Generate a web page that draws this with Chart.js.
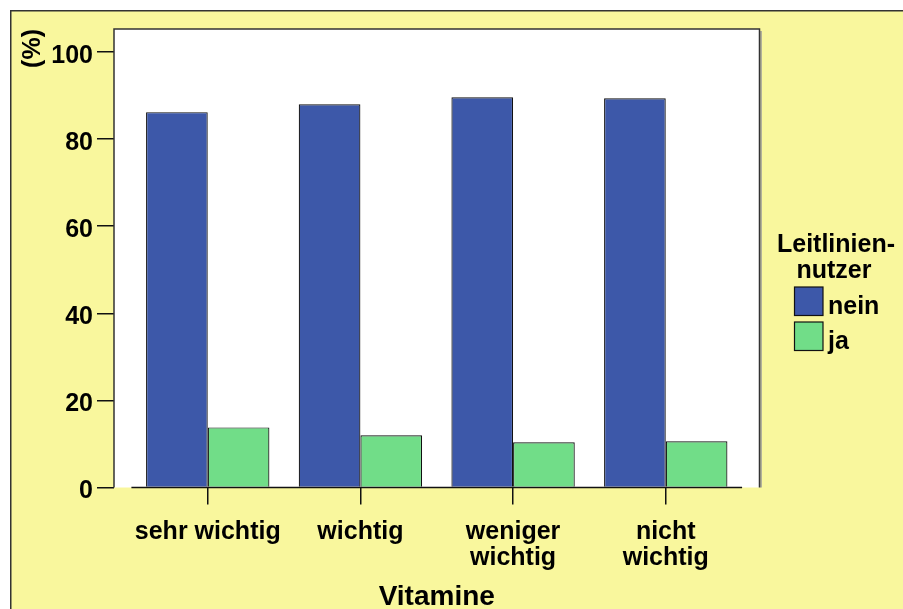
<!DOCTYPE html>
<html>
<head>
<meta charset="utf-8">
<style>
  html, body { margin: 0; padding: 0; background: #fff; }
  #wrap { width: 903px; height: 609px; }
</style>
<script src="https://cdn.jsdelivr.net/npm/chart.js@4/dist/chart.umd.min.js"></script>
</head>
<body>
<div id="wrap"><canvas id="c" width="903" height="609"></canvas></div>
<script>
// Categories (multi-line tick labels) and the two series, in percent
const categories = [['sehr wichtig'], ['wichtig'], ['weniger', 'wichtig'], ['nicht', 'wichtig']];
const seriesNames = ['nein', 'ja'];
const neinValues = [86.2, 88.0, 89.6, 89.4];
const jaValues = [13.8, 12.0, 10.4, 10.6];
const yTickValues = [0, 20, 40, 60, 80, 100];
const legendTitle = ['Leitlinien-', 'nutzer'];
const yAxisTitle = '(%)';
const xAxisTitle = 'Vitamine';

const FONT = '"Liberation Sans", Arial, Helvetica, sans-serif';
const BG_YELLOW = '#f9f79d';
const BLUE = '#3d58a9';
const GREEN = '#71dd88';
const INK = '#111';

Chart.defaults.font.family = FONT;
Chart.defaults.font.weight = 'bold';
Chart.defaults.color = '#000';

const toPoints = vals => vals.map((v, i) => ({ x: i, y: v }));

const framePlugin = {
  id: 'frame',
  beforeDraw(chart) {
    const { ctx, width, height, chartArea: a } = chart;
    ctx.save();
    ctx.fillStyle = '#fff';
    ctx.fillRect(0, 0, width, height);
    ctx.fillStyle = BG_YELLOW;
    ctx.fillRect(10, 10, width, height);
    ctx.strokeStyle = '#333';
    ctx.lineWidth = 1.5;
    ctx.beginPath();
    ctx.moveTo(10.75, height + 5);
    ctx.lineTo(10.75, 10.75);
    ctx.lineTo(width + 5, 10.75);
    ctx.stroke();
    // white plotting region
    ctx.fillStyle = '#fff';
    ctx.fillRect(a.left, a.top, a.right - a.left, a.bottom - a.top);
    ctx.restore();
  },
  beforeDatasetsDraw(chart) {
    const { ctx, chartArea: a } = chart;
    ctx.save();
    // soft shadow along the right edge of the plot
    ctx.strokeStyle = '#9a9a9a';
    ctx.lineWidth = 1.5;
    ctx.beginPath();
    ctx.moveTo(a.right + 1.5, a.top + 2);
    ctx.lineTo(a.right + 1.5, a.bottom);
    ctx.stroke();
    // border on left, top and right
    ctx.strokeStyle = '#333';
    ctx.lineWidth = 1.5;
    ctx.beginPath();
    ctx.moveTo(a.left, a.bottom);
    ctx.lineTo(a.left, a.top);
    ctx.lineTo(a.right, a.top);
    ctx.lineTo(a.right, a.bottom);
    ctx.stroke();
    ctx.restore();
  },
  afterDatasetsDraw(chart) {
    const { ctx } = chart;
    const xs = chart.scales.x, ys = chart.scales.y;
    const y0 = ys.getPixelForValue(0);
    ctx.save();
    ctx.strokeStyle = INK;
    ctx.lineWidth = 1.5;
    ctx.beginPath();
    ctx.moveTo(xs.getPixelForValue(-0.5), y0);
    ctx.lineTo(xs.getPixelForValue(categories.length - 0.5), y0);
    ctx.stroke();
    ctx.restore();
  },
  afterDraw(chart) {
    const { ctx } = chart;
    ctx.save();
    ctx.fillStyle = '#000';
    ctx.font = 'bold 25px ' + FONT;
    ctx.textAlign = 'center';
    ctx.textBaseline = 'alphabetic';
    ctx.fillText(legendTitle[0], 836, 252);
    ctx.fillText(legendTitle[1], 834, 277.5);
    ctx.textAlign = 'left';
    chart.data.datasets.forEach((ds, i) => {
      const top = 287 + i * 35;
      ctx.fillStyle = ds.backgroundColor;
      ctx.fillRect(794.5, top, 28.5, 28.5);
      ctx.strokeStyle = INK;
      ctx.lineWidth = 1.2;
      ctx.strokeRect(794.5, top, 28.5, 28.5);
      ctx.fillStyle = '#000';
      ctx.fillText(ds.label, 828, top + 26.5);
    });
    ctx.restore();
  }
};

new Chart(document.getElementById('c'), {
  type: 'bar',
  data: {
    datasets: [
      { label: seriesNames[0], data: toPoints(neinValues), backgroundColor: BLUE, borderColor: INK, borderWidth: 1.2 },
      { label: seriesNames[1], data: toPoints(jaValues), backgroundColor: GREEN, borderColor: INK, borderWidth: 1.2 }
    ]
  },
  options: {
    responsive: false,
    animation: false,
    layout: { padding: { top: 29, right: 143.5, left: 0, bottom: 0 } },
    categoryPercentage: 0.808,
    barPercentage: 1,
    plugins: { legend: { display: false }, tooltip: { enabled: false } },
    scales: {
      x: {
        type: 'linear',
        min: -0.614,
        max: categories.length - 1 + 0.614,
        offset: false,
        afterBuildTicks: s => { s.ticks = categories.map((c, i) => ({ value: i })); },
        afterFit: s => { s.height = 121.5; },
        grid: { display: true, offset: false, drawOnChartArea: false, drawTicks: true, tickLength: 17, color: INK, lineWidth: 1.5 },
        border: { display: false },
        ticks: {
          padding: 15,
          autoSkip: false,
          maxRotation: 0,
          color: '#000',
          font: { size: 25, weight: 'bold', lineHeight: 1.03 },
          callback: v => categories[v]
        },
        title: {
          display: true,
          text: xAxisTitle,
          color: '#000',
          font: { size: 28, weight: 'bold', lineHeight: 0.84 },
          padding: { top: 0, bottom: 0 }
        }
      },
      y: {
        min: 0,
        max: 105.3,
        afterBuildTicks: s => { s.ticks = yTickValues.map(v => ({ value: v })); },
        afterFit: s => { s.width = 114; },
        grid: { display: true, drawOnChartArea: false, drawTicks: true, tickLength: 17, color: INK, lineWidth: 1.5 },
        border: { display: false },
        ticks: { padding: 4, labelOffset: 4, color: '#000', font: { size: 25, weight: 'bold' } },
        title: {
          display: true,
          text: yAxisTitle,
          align: 'end',
          color: '#000',
          font: { size: 25, weight: 'bold', lineHeight: 1.2 },
          padding: { top: 18, bottom: 0 }
        }
      }
    }
  },
  plugins: [framePlugin]
});
</script>
</body>
</html>
